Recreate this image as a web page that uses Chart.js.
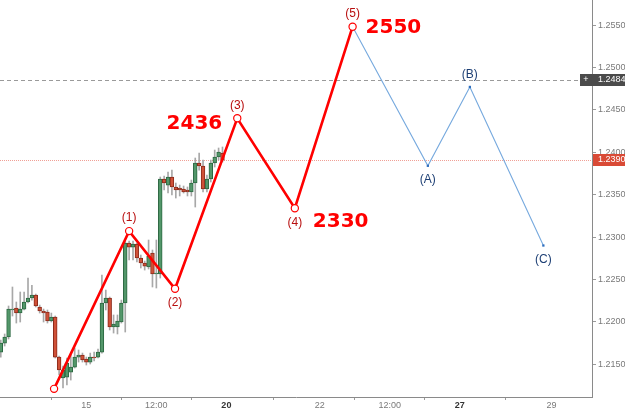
<!DOCTYPE html>
<html><head><meta charset="utf-8">
<script src="https://cdn.jsdelivr.net/npm/chart.js@4.4.0/dist/chart.umd.min.js"></script>
<style>html,body{margin:0;padding:0;background:#fff;overflow:hidden}#wrap{width:625px;height:410px;position:relative}</style>
</head><body><div id="wrap"><canvas id="c" width="625" height="410"></canvas></div>
<script>
// ---- data ----
const opens  = [1.21644,1.21750,1.21821,1.22140,1.22163,1.22104,1.22151,1.22234,1.22281,1.22316,
                1.22175,1.22128,1.22116,1.22010,1.22057,1.21585,1.21338,1.21349,1.21408,1.21467,
                1.21585,1.21609,1.21562,1.21526,1.21585,1.21585,1.21644,1.22222,1.22281,1.21939,
                1.21939,1.21998,1.22222,1.22930,1.22882,1.22918,1.22753,1.22694,1.22647,1.22812,
                1.22564,1.22564,1.23684,1.23613,1.23708,1.23590,1.23578,1.23566,1.23555,1.23531,
                1.23637,1.23873,1.23838,1.23566,1.23684,1.23873,1.23944,1.23991];
const highs  = [1.21786,1.21857,1.22187,1.22411,1.22234,1.22352,1.22352,1.22517,1.22430,1.22328,
                1.22198,1.22151,1.22140,1.22104,1.22069,1.21597,1.21479,1.21574,1.21609,1.21691,
                1.21668,1.21632,1.21585,1.21632,1.21644,1.21680,1.22552,1.22375,1.22293,1.22081,
                1.22081,1.22257,1.22953,1.22953,1.22953,1.22930,1.22788,1.22717,1.22965,1.22847,
                1.22965,1.23708,1.23720,1.23767,1.23790,1.23637,1.23613,1.23602,1.23590,1.23672,
                1.23932,1.23991,1.23908,1.23731,1.23908,1.24026,1.24050,1.24062];
const lows   = [1.21585,1.21715,1.21798,1.22069,1.21986,1.21998,1.22140,1.22222,1.22257,1.22175,
                1.22104,1.21998,1.21986,1.21998,1.21574,1.21373,1.21220,1.21255,1.21314,1.21456,
                1.21526,1.21526,1.21491,1.21503,1.21538,1.21574,1.21632,1.22140,1.21904,1.21868,
                1.21857,1.21986,1.21880,1.22729,1.22729,1.22706,1.22635,1.22611,1.22623,1.22411,
                1.22399,1.22517,1.23555,1.23519,1.23496,1.23460,1.23484,1.23519,1.23484,1.23484,
                1.23354,1.23790,1.23531,1.23531,1.23649,1.23826,1.23908,1.23885];
const closes = [1.21750,1.21821,1.22151,1.22151,1.22104,1.22151,1.22234,1.22281,1.22316,1.22187,
                1.22128,1.22104,1.22010,1.22057,1.21585,1.21432,1.21432,1.21515,1.21467,1.21585,
                1.21609,1.21550,1.21526,1.21585,1.21574,1.21644,1.22222,1.22281,1.21939,1.21974,
                1.22010,1.22222,1.22930,1.22882,1.22918,1.22753,1.22694,1.22658,1.22776,1.22564,
                1.22576,1.23684,1.23637,1.23708,1.23590,1.23555,1.23555,1.23531,1.23531,1.23637,
                1.23873,1.23838,1.23566,1.23684,1.23873,1.23944,1.24003,1.23905];

const waveX = [13.7, 33.0, 44.8, 60.8, 75.6, 90.45];
const waveY = [1.2121, 1.2307, 1.2239, 1.2440, 1.2334, 1.2548];
const waveLabels = ['', '(1)', '(2)', '(3)', '(4)', '(5)'];

const corrX = [90.45, 109.8, 120.6, 139.5];
const corrY = [1.2548, 1.2384, 1.2477, 1.2290];
const corrLabels = ['', '(A)', '(B)', '(C)'];

const targetLabels = ['2436', '2330', '2550'];   // attached to waves (3), (4), (5)

const xTickPos = [22, 40, 58, 82, 100, 118, 141.6];
const xTickLabels = ['15', '12:00', '20', '22', '12:00', '27', '29'];
const xBoldLabels = ['20', '27'];
const yTicks = [1.215, 1.220, 1.225, 1.230, 1.235, 1.240, 1.245, 1.250, 1.255];

const bidPrice = 1.23905;
const askPrice = 1.24849;

// ---- build ----
const GREEN = '#53976a', GREEN_B = '#2c6842', RED = '#cf5138', RED_B = '#8c2b1b';
const idx = opens.map((_, i) => i);
const up = idx.map(i => closes[i] >= opens[i]);

const overlay = {
  id: 'overlay',
  beforeDatasetsDraw(chart) {
    const {ctx, chartArea: a, scales: {y}} = chart;
    ctx.save();
    const ya = Math.round(y.getPixelForValue(askPrice)) + 0.5;
    ctx.strokeStyle = '#9a9a9a'; ctx.lineWidth = 1; ctx.setLineDash([4, 3]);
    ctx.beginPath(); ctx.moveTo(a.left, ya); ctx.lineTo(a.right - 12, ya); ctx.stroke();
    const yb = Math.round(y.getPixelForValue(bidPrice)) + 0.5;
    ctx.strokeStyle = '#f0a096'; ctx.setLineDash([1, 1]);
    ctx.beginPath(); ctx.moveTo(a.left, yb); ctx.lineTo(a.right, yb); ctx.stroke();
    ctx.restore();
  },
  afterDatasetsDraw(chart) {
    const {ctx, scales: {x, y}} = chart;
    ctx.save();
    ctx.textAlign = 'center'; ctx.textBaseline = 'middle';
    ctx.font = '12px "Liberation Sans", Arial, sans-serif';
    ctx.fillStyle = '#b80f0f';
    waveLabels.forEach((t, i) => {
      if (!t) return;
      const px = x.getPixelForValue(waveX[i]), py = y.getPixelForValue(waveY[i]);
      const above = waveY[i] > waveY[i - 1];
      ctx.fillText(t, px, above ? py - 13 : py + 14);
    });
    ctx.fillStyle = '#1d3f74';
    corrLabels.forEach((t, i) => {
      if (!t) return;
      const px = x.getPixelForValue(corrX[i]), py = y.getPixelForValue(corrY[i]);
      const above = corrY[i] > corrY[i - 1];
      ctx.fillText(t, px, above ? py - 12 : py + 14);
    });
    // target numbers
    ctx.font = 'bold 20px "DejaVu Sans", Verdana, sans-serif';
    ctx.fillStyle = '#ff0000';
    const p = i => [x.getPixelForValue(waveX[i]), y.getPixelForValue(waveY[i])];
    let [x3, y3] = p(3), [x4, y4] = p(4), [x5, y5] = p(5);
    ctx.textAlign = 'right'; ctx.fillText(targetLabels[0], x3 - 15, y3 + 5);
    ctx.textAlign = 'left';  ctx.fillText(targetLabels[1], x4 + 18, y4 + 14);
    ctx.fillText(targetLabels[2], x5 + 13, y5 + 1);
    ctx.restore();
  },
  afterDraw(chart) {
    const {ctx, chartArea: a, scales: {y}} = chart;
    ctx.save();
    ctx.font = '9px "Liberation Sans", Arial, sans-serif';
    ctx.textBaseline = 'middle';
    const ya = Math.round(y.getPixelForValue(askPrice));
    ctx.fillStyle = '#4b4b4b';
    ctx.fillRect(a.right - 12, ya - 6, 625 - a.right + 12, 12);
    ctx.fillStyle = '#ffffff';
    ctx.textAlign = 'center'; ctx.fillText('+', a.right - 6, ya);
    ctx.textAlign = 'left'; ctx.fillText(askPrice.toFixed(5), a.right + 6, ya);
    const yb = Math.round(y.getPixelForValue(bidPrice));
    ctx.fillStyle = '#d94a36';
    ctx.fillRect(a.right + 1, yb - 6, 625 - a.right, 12);
    ctx.fillStyle = '#ffffff';
    ctx.fillText(bidPrice.toFixed(5), a.right + 6, yb);
    ctx.restore();
  }
};

new Chart(document.getElementById('c'), {
  type: 'bar',
  data: {
    datasets: [
      {
        type: 'line', order: 0,
        data: waveX.map((v, i) => ({x: v, y: waveY[i]})),
        borderColor: '#ff0000', borderWidth: 2.6, tension: 0,
        pointRadius: 3.6, pointBackgroundColor: '#ffffff',
        pointBorderColor: '#ff0000', pointBorderWidth: 1.2
      },
      {
        type: 'line', order: 1,
        data: corrX.map((v, i) => ({x: v, y: corrY[i]})),
        borderColor: '#76a9de', borderWidth: 1.1, tension: 0,
        pointRadius: corrX.map((_, i) => i === 0 ? 0 : 1.6), pointStyle: 'rect',
        pointBackgroundColor: '#2f6fbf', pointBorderWidth: 0
      },
      {
        type: 'bar', order: 2,
        data: idx.map(i => ({x: i, y: [opens[i], closes[i]]})),
        backgroundColor: idx.map(i => up[i] ? GREEN : RED),
        borderColor: idx.map(i => up[i] ? GREEN_B : RED_B),
        borderWidth: 1, borderSkipped: false,
        barThickness: 3.8, grouped: false
      },
      {
        type: 'bar', order: 3,
        data: idx.map(i => ({x: i, y: [lows[i], highs[i]]})),
        backgroundColor: '#a8a8a8', borderWidth: 0,
        barThickness: 1, grouped: false
      }
    ]
  },
  options: {
    responsive: false, animation: false,
    layout: {padding: 0, autoPadding: false},
    plugins: {legend: {display: false}, tooltip: {enabled: false}},
    scales: {
      x: {
        type: 'linear', min: -0.2, max: 152, offset: false,
        afterBuildTicks: s => { s.ticks = xTickPos.map(v => ({value: v})); },
        afterFit: s => { s.height = 13; s.paddingLeft = 0; s.paddingRight = 0; },
        grid: {display: true, drawOnChartArea: false, drawTicks: true, tickLength: 3, color: '#9a9a9a'},
        border: {display: true, color: '#8a8a8a'},
        ticks: {
          autoSkip: false, maxRotation: 0, padding: 0,
          callback: (v, i) => xTickLabels[i],
          color: c => xBoldLabels.includes(xTickLabels[c.index]) ? '#333' : '#7a7a7a',
          font: c => ({size: 9, family: '"Liberation Sans", Arial, sans-serif',
                       weight: xBoldLabels.includes(xTickLabels[c.index]) ? 'bold' : 'normal'})
        }
      },
      y: {
        type: 'linear', position: 'right', min: 1.21114, max: 1.25795,
        afterBuildTicks: s => { s.ticks = yTicks.map(v => ({value: v})); },
        afterFit: s => { s.width = 33; s.paddingTop = 0; s.paddingBottom = 0; },
        grid: {display: true, drawOnChartArea: false, drawTicks: true, tickLength: 4, color: '#9a9a9a'},
        border: {display: true, color: '#8a8a8a'},
        ticks: {
          padding: 2, color: '#7a7a7a',
          font: {size: 9, family: '"Liberation Sans", Arial, sans-serif'},
          callback: v => Number(v).toFixed(5)
        }
      }
    }
  },
  plugins: [overlay]
});
</script></body></html>
